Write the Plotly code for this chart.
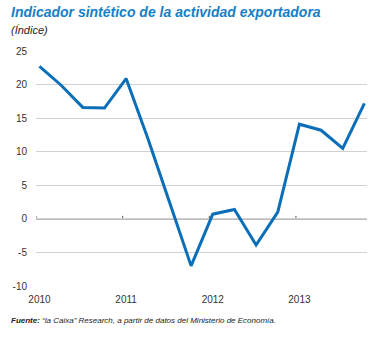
import plotly.graph_objects as go

# Data (quarterly, plotted at mid-month of Jan/Apr/Jul/Oct)
periods = [2010.04, 2010.29, 2010.54, 2010.79,
           2011.04, 2011.29, 2011.54, 2011.79,
           2012.04, 2012.29, 2012.54, 2012.79,
           2013.04, 2013.29, 2013.54, 2013.79]
values = [22.7, 19.9, 16.6, 16.5,
          20.9, 12.0, 2.5, -7.0,
          0.7, 1.4, -3.9, 1.0,
          14.1, 13.2, 10.5, 17.2]
year_ticks = [2010, 2011, 2012, 2013]
year_labels = ["2010", "2011", "2012", "2013"]
y_ticks = [-10, -5, 0, 5, 10, 15, 20, 25]
y_labels = ["-10", "-5", "0", "5", "10", "15", "20", "25"]

FONT = "Liberation Sans Narrow, Liberation Sans, sans-serif"
LINE_COLOR = "#0a6fb8"
TITLE_COLOR = "#1580c6"

fig = go.Figure()
fig.add_trace(go.Scatter(
    x=periods, y=values, mode="lines",
    line=dict(color=LINE_COLOR, width=3),
    hoverinfo="skip", showlegend=False,
))

# zero line with small year ticks above it
fig.add_hline(y=0, line=dict(color="#7a7a7a", width=1.2), layer="below")
for yr in year_ticks:
    fig.add_shape(type="line", xref="x", yref="y", x0=yr, x1=yr, y0=0, y1=0.45,
                  line=dict(color="#555555", width=1), layer="below")

fig.update_layout(
    width=375, height=338,
    margin=dict(l=36, r=8, t=51, b=52),
    paper_bgcolor="white", plot_bgcolor="white",
    font=dict(family=FONT, size=10, color="#333333"),
    xaxis=dict(
        range=[2010, 2013.82], showgrid=False, zeroline=False, showline=False,
        tickmode="array", tickvals=[y + 0.04 for y in year_ticks], ticktext=year_labels,
        ticks="", ticklabelstandoff=6, tickfont=dict(size=10, color="#333333"),
    ),
    yaxis=dict(
        range=[-10, 25], tickmode="array", tickvals=y_ticks, ticktext=y_labels,
        showgrid=True, gridcolor="#d0d0d0", gridwidth=1,
        zeroline=False, showline=False, ticks="", ticklabelstandoff=8,
        tickfont=dict(size=10, color="#333333"),
    ),
    annotations=[
        dict(text="<b><i>Indicador sintético de la actividad exportadora</i></b>",
             xref="paper", yref="paper", x=0, y=1, xshift=-27, yshift=39,
             xanchor="left", yanchor="middle", showarrow=False,
             font=dict(family=FONT, size=14, color=TITLE_COLOR)),
        dict(text="<i>(Índice)</i>",
             xref="paper", yref="paper", x=0, y=1, xshift=-27, yshift=21,
             xanchor="left", yanchor="middle", showarrow=False,
             font=dict(family=FONT, size=11, color="#222222")),
        dict(text="<b><i>Fuente:</i></b><i> “la Caixa” Research, a partir de datos del Ministerio de Economía.</i>",
             xref="paper", yref="paper", x=0, y=0, xshift=-27, yshift=-34,
             xanchor="left", yanchor="middle", showarrow=False,
             font=dict(family=FONT, size=8, color="#222222")),
    ],
)

fig.write_html("out.html")
